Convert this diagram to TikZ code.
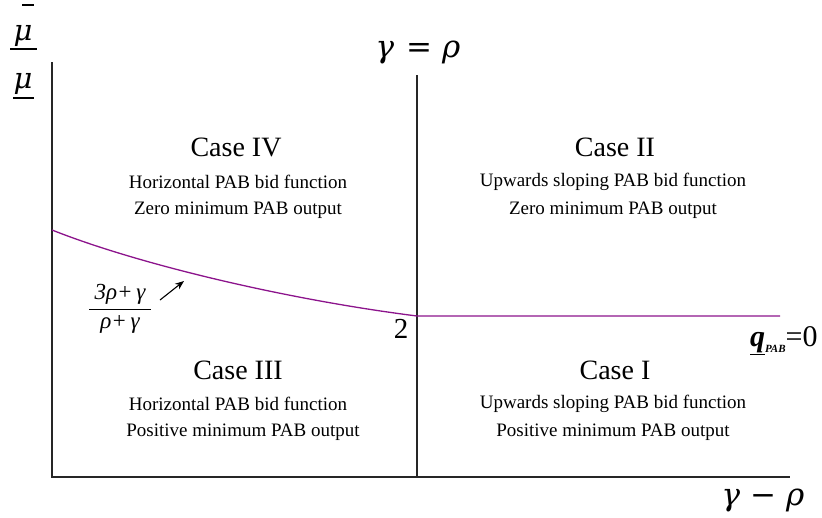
\documentclass[tikz,border=0pt]{standalone}
\usepackage{fontspec}
\setmainfont{Liberation Serif}
\newfontfamily\mfont{DejaVu Serif}
\usetikzlibrary{arrows.meta}
\definecolor{curvecol}{RGB}{140,20,140}
\begin{document}
\begin{tikzpicture}[x=1pt,y=-1pt,
  axis/.style={line width=1.4pt,black!85},
  bound/.style={line width=1.3pt,curvecol},
  casetitle/.style={font=\fontsize{28}{32}\selectfont},
  casetext/.style={font=\fontsize{19}{22}\selectfont},
  mathlbl/.style={font=\fontsize{31}{34}\mfont\itshape},
  fractext/.style={font=\fontsize{23}{26}\selectfont\itshape},
  inner sep=0pt, outer sep=0pt]
\useasboundingbox (0,0) rectangle (822,517);
% axes
\coordinate (O) at (52,477);
\coordinate (Ytop) at (52,62);
\coordinate (Xend) at (790,477);
\coordinate (Mtop) at (417,75);
\coordinate (Mbot) at (417,477);
\draw[axis] (Ytop) -- (O) -- (Xend);
\draw[axis,line width=1.2pt] (Mtop) -- (Mbot);
% boundary curve
\coordinate (C0) at (52,230);
\coordinate (C1) at (417,316);
\coordinate (C2) at (780,316);
\draw[bound] (C0) .. controls (140,265) and (290,300) .. (C1) -- (C2);
% axis labels
\node[mathlbl] (geq) at (418,52) {γ\hspace{12pt}{\upshape=}\hspace{10pt}ρ};
\node[mathlbl] (gmr) at (763,500) {γ\hspace{10pt}{\upshape−}\hspace{10pt}ρ};
\node[mathlbl,font=\fontsize{29}{32}\mfont\itshape,anchor=base] (mutop) at (23,40) {μ};
\node[mathlbl,font=\fontsize{29}{32}\mfont\itshape,anchor=base] (mubot) at (23,88) {μ};
\coordinate (bar1a) at (22,5); \coordinate (bar1b) at (34,5);
\coordinate (fra) at (10,49); \coordinate (frb) at (37,49);
\coordinate (ula) at (13,98); \coordinate (ulb) at (34,98);
\draw[line width=1.4pt] (bar1a) -- (bar1b);
\draw[line width=1.4pt] (fra) -- (frb);
\draw[line width=1.4pt] (ula) -- (ulb);
% cases
\node[casetitle] (c4) at (236,147) {Case IV};
\node[casetext] (c4a) at (238,182) {Horizontal PAB bid function};
\node[casetext] (c4b) at (238,210) {Zero minimum PAB output};
\node[casetitle] (c2) at (615,147) {Case II};
\node[casetext] (c2a) at (613,182) {Upwards sloping PAB bid function};
\node[casetext] (c2b) at (613,210) {Zero minimum PAB output};
\node[casetitle] (c3) at (238,370) {Case III};
\node[casetext] (c3a) at (238,404) {Horizontal PAB bid function};
\node[casetext] (c3b) at (243,432) {Positive minimum PAB output};
\node[casetitle] (c1) at (615,370) {Case I};
\node[casetext] (c1a) at (613,404) {Upwards sloping PAB bid function};
\node[casetext] (c1b) at (613,432) {Positive minimum PAB output};
% labels
\node[font=\fontsize{29}{32}\selectfont] (two) at (401,329) {2};
\node[font=\fontsize{30}{32}\selectfont,anchor=west] (q) at (750,341) {\underline{\bfseries\itshape q}\raisebox{-0.45ex}{\fontsize{11}{12}\selectfont\bfseries\itshape PAB}=0};
% fraction
\node[fractext] (num) at (120,294) {3ρ+\,γ};
\node[fractext] (den) at (120,324) {ρ+\,γ};
\coordinate (fla) at (89,309); \coordinate (flb) at (151,309);
\draw[line width=1pt] (fla) -- (flb);
\coordinate (arrS) at (160,300);
\coordinate (arrE) at (184,281);
\draw[line width=1.1pt,-{Stealth[length=9pt,width=7pt]}] (arrS) -- (arrE);
\end{tikzpicture}
\end{document}
